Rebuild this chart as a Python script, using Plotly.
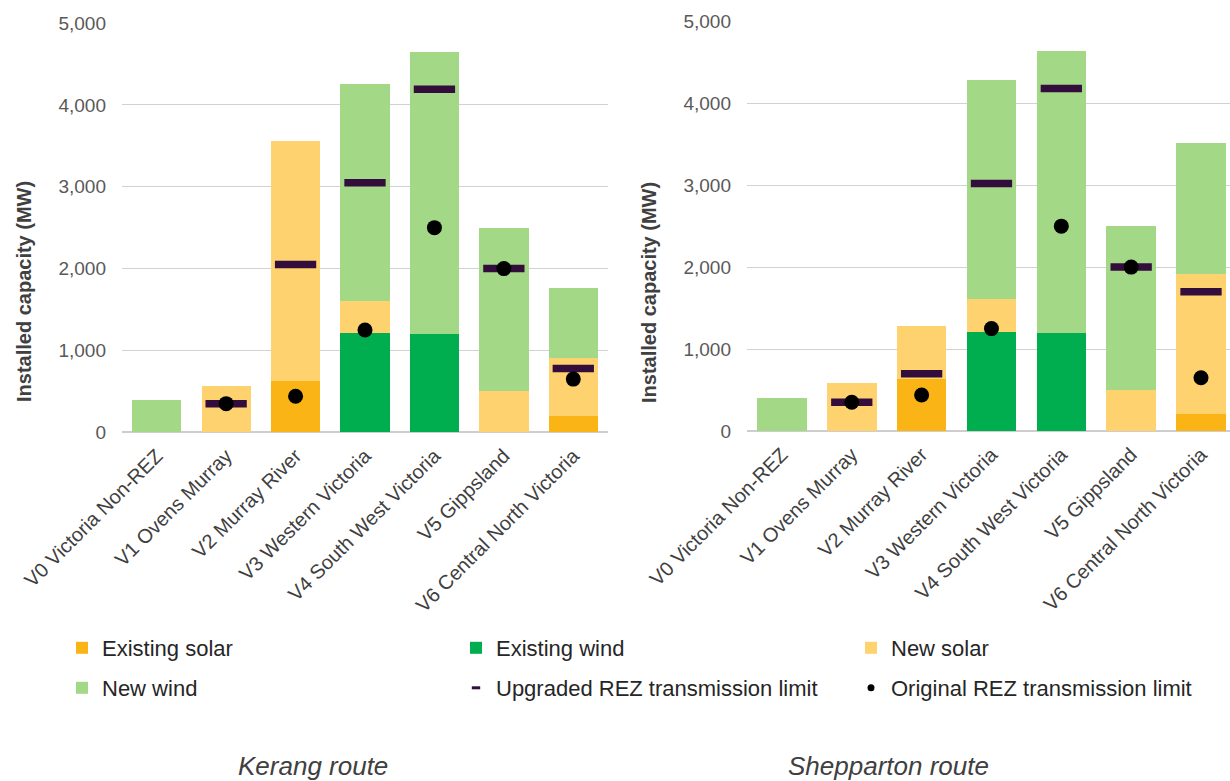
import plotly.graph_objects as go

W, H = 1230, 781

categories = [
    "V0 Victoria Non-REZ",
    "V1 Ovens Murray",
    "V2 Murray River",
    "V3 Western Victoria",
    "V4 South West Victoria",
    "V5 Gippsland",
    "V6 Central North Victoria",
]

# Kerang route (MW)
kerang_existing_solar = [0, 0, 630, 0, 0, 0, 200]
kerang_existing_wind = [0, 0, 0, 1210, 1200, 0, 0]
kerang_new_solar = [0, 570, 2930, 400, 0, 500, 710]
kerang_new_wind = [400, 0, 0, 2640, 3440, 2000, 850]
kerang_upgraded_limit = [None, 350, 2050, 3050, 4190, 2000, 780]
kerang_original_limit = [None, 350, 440, 1250, 2500, 2000, 650]

# Shepparton route (MW)
shep_existing_solar = [0, 0, 630, 0, 0, 0, 210]
shep_existing_wind = [0, 0, 0, 1210, 1200, 0, 0]
shep_new_solar = [0, 590, 650, 400, 0, 500, 1700]
shep_new_wind = [400, 0, 0, 2670, 3440, 2000, 1600]
shep_upgraded_limit = [None, 350, 700, 3020, 4180, 2000, 1700]
shep_original_limit = [None, 350, 440, 1250, 2500, 2000, 650]

y_ticks = [0, 1000, 2000, 3000, 4000, 5000]

COL_EX_SOLAR = "#FBB416"
COL_EX_WIND = "#00AE4F"
COL_NEW_SOLAR = "#FDD26F"
COL_NEW_WIND = "#A3D886"
COL_UPGRADED = "#330E3D"
COL_ORIGINAL = "#000000"

FONT = "Liberation Sans, Arial, sans-serif"

# one legend box per entry, laid out as a 3-column grid (left edge, row centre in px)
LEGEND_SLOTS = {
    "legend": (62, 648),    # Existing solar
    "legend2": (456, 648),  # Existing wind
    "legend3": (851, 648),  # New solar
    "legend4": (62, 688),   # New wind
    "legend5": (456, 688),  # Upgraded limit
    "legend6": (851, 688),  # Original limit
}

fig = go.Figure()

panels = [
    ("x", "y", kerang_existing_solar, kerang_existing_wind, kerang_new_solar,
     kerang_new_wind, kerang_upgraded_limit, kerang_original_limit, True),
    ("x2", "y2", shep_existing_solar, shep_existing_wind, shep_new_solar,
     shep_new_wind, shep_upgraded_limit, shep_original_limit, False),
]

for xa, ya, ex_s, ex_w, nw_s, nw_w, upg, orig, show in panels:
    for name, vals, col, leg in [
        ("Existing solar", ex_s, COL_EX_SOLAR, "legend"),
        ("Existing wind", ex_w, COL_EX_WIND, "legend2"),
        ("New solar", nw_s, COL_NEW_SOLAR, "legend3"),
        ("New wind", nw_w, COL_NEW_WIND, "legend4"),
    ]:
        fig.add_trace(go.Bar(
            x=categories, y=vals, name=name, marker_color=col,
            marker_line_width=0, width=0.71, xaxis=xa, yaxis=ya,
            showlegend=show, legend=leg, legendgroup=name,
        ))
    fig.add_trace(go.Scatter(
        x=categories, y=upg, mode="markers", name="Upgraded REZ transmission limit",
        marker=dict(symbol="line-ew", size=29.5, color=COL_UPGRADED,
                    line=dict(width=7.5, color=COL_UPGRADED)),
        xaxis=xa, yaxis=ya, showlegend=False,
    ))
    fig.add_trace(go.Scatter(
        x=categories, y=orig, mode="markers", name="Original REZ transmission limit",
        marker=dict(symbol="circle", size=15, color=COL_ORIGINAL, line=dict(width=0)),
        xaxis=xa, yaxis=ya, showlegend=False,
    ))

# legend-only entries for the two limit markers (small symbols)
fig.add_trace(go.Scatter(
    x=[None], y=[None], mode="markers", name="Upgraded REZ transmission limit",
    marker=dict(symbol="line-ew", size=6, color=COL_UPGRADED,
                line=dict(width=3, color=COL_UPGRADED)),
    legend="legend5", xaxis="x", yaxis="y",
))
fig.add_trace(go.Scatter(
    x=[None], y=[None], mode="markers", name="Original REZ transmission limit",
    marker=dict(symbol="circle", size=7, color=COL_ORIGINAL),
    legend="legend6", xaxis="x", yaxis="y",
))

xaxis_common = dict(
    type="category", categoryorder="array", categoryarray=categories,
    tickangle=-45, ticks="", showgrid=False, showline=False, zeroline=False,
    tickfont=dict(family=FONT, size=20, color="#404040"), automargin=False,
    ticklabelstandoff=7, fixedrange=True,
)
yaxis_common = dict(
    range=[0, 5000], tickvals=y_ticks, tickformat=",", ticks="",
    showgrid=True, gridcolor="#D2D2D2", gridwidth=1.3, showline=False,
    zeroline=True, zerolinecolor="#CDCDCD", zerolinewidth=1.6,
    tickfont=dict(family=FONT, size=19, color="#595959"), automargin=False,
    ticklabelstandoff=15, fixedrange=True,
)

legend_common = dict(
    orientation="h", xanchor="left", yanchor="middle",
    font=dict(family=FONT, size=22, color="#262626"),
    bgcolor="rgba(0,0,0,0)", borderwidth=0,
    itemclick=False, itemdoubleclick=False,
)
legend_layout = {
    key: dict(x=px / W, y=1 - py / H, **legend_common)
    for key, (px, py) in LEGEND_SLOTS.items()
}

fig.update_layout(
    width=W, height=H,
    margin=dict(l=0, r=0, t=0, b=0, autoexpand=False),
    paper_bgcolor="white", plot_bgcolor="white",
    barmode="stack",
    font=dict(family=FONT),
    xaxis=dict(domain=[122 / W, 608 / W], range=[-0.5, 6.5], anchor="y", **xaxis_common),
    yaxis=dict(domain=[1 - 432.3 / H, 1 - 23 / H], anchor="x", **yaxis_common),
    xaxis2=dict(domain=[747 / W, 1.0], range=[-0.5, 6.415], anchor="y2", **xaxis_common),
    yaxis2=dict(domain=[1 - 431 / H, 1 - 21.3 / H], anchor="x2", **yaxis_common),
    showlegend=True,
    annotations=[
        dict(text="<b>Installed capacity (MW)</b>", textangle=-90,
             x=24 / W, y=1 - 292 / H, xref="paper", yref="paper",
             xanchor="center", yanchor="middle", showarrow=False,
             font=dict(family=FONT, size=20, color="#404040")),
        dict(text="<b>Installed capacity (MW)</b>", textangle=-90,
             x=649 / W, y=1 - 292 / H, xref="paper", yref="paper",
             xanchor="center", yanchor="middle", showarrow=False,
             font=dict(family=FONT, size=20, color="#404040")),
        dict(text="<i>Kerang route</i>", x=313 / W, y=1 - 766 / H,
             xref="paper", yref="paper", xanchor="center", yanchor="middle",
             showarrow=False, font=dict(family=FONT, size=26, color="#404040")),
        dict(text="<i>Shepparton route</i>", x=888 / W, y=1 - 766 / H,
             xref="paper", yref="paper", xanchor="center", yanchor="middle",
             showarrow=False, font=dict(family=FONT, size=26, color="#404040")),
    ],
    **legend_layout,
)

fig.write_html("out.html")
